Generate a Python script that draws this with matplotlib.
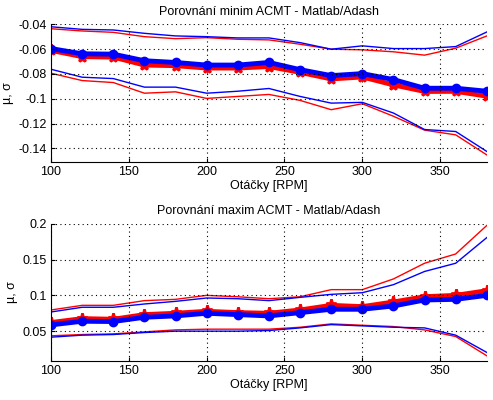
import numpy as np
import matplotlib
matplotlib.use("Agg")
import matplotlib.pyplot as plt

rpm = [100, 120, 140, 160, 180, 200, 220, 240, 260, 280, 300, 320, 340, 360, 380]

# minima (top panel)
min_mean_adash = [-0.0595, -0.0637, -0.064, -0.0693, -0.0707, -0.0728, -0.0728, -0.0707,
                  -0.0765, -0.0813, -0.0797, -0.0845, -0.0915, -0.0915, -0.0939]
min_mean_matlab = [-0.061, -0.066, -0.0664, -0.0728, -0.0733, -0.0752, -0.0752, -0.074,
                   -0.0787, -0.084, -0.0824, -0.0888, -0.0941, -0.094, -0.0979]
min_up_adash = [-0.0419, -0.044, -0.0445, -0.0472, -0.0493, -0.0499, -0.0509, -0.0509,
                -0.0547, -0.060, -0.0573, -0.0595, -0.0595, -0.0579, -0.0461]
min_up_matlab = [-0.0435, -0.0453, -0.0464, -0.0499, -0.0515, -0.0507, -0.052, -0.0525,
                 -0.056, -0.060, -0.0605, -0.0621, -0.0648, -0.0592, -0.0493]
min_lo_adash = [-0.0762, -0.0826, -0.0837, -0.0906, -0.0906, -0.0955, -0.0939, -0.0917,
                -0.0981, -0.1035, -0.1029, -0.1115, -0.1248, -0.1264, -0.1425]
min_lo_matlab = [-0.0794, -0.0853, -0.0869, -0.0955, -0.0944, -0.0997, -0.0981, -0.0965,
                 -0.1013, -0.1088, -0.104, -0.1141, -0.1253, -0.1291, -0.1453]

# maxima (bottom panel)
max_mean_adash = [0.0586, 0.0637, 0.0633, 0.0693, 0.0712, 0.0749, 0.073, 0.0712,
                  0.0758, 0.0805, 0.0805, 0.0851, 0.0935, 0.0944, 0.100]
max_mean_matlab = [0.0619, 0.0674, 0.0665, 0.073, 0.0749, 0.0777, 0.0758, 0.0749,
                   0.0795, 0.086, 0.0842, 0.0907, 0.0981, 0.100, 0.1065]
max_up_adash = [0.0767, 0.0833, 0.0833, 0.0879, 0.0916, 0.0963, 0.0953, 0.0926,
                0.0972, 0.1014, 0.1037, 0.115, 0.1335, 0.145, 0.181]
max_up_matlab = [0.0795, 0.086, 0.086, 0.0926, 0.0944, 0.100, 0.098, 0.0953,
                 0.098, 0.108, 0.108, 0.123, 0.145, 0.158, 0.198]
max_lo_adash = [0.0414, 0.0442, 0.0451, 0.0479, 0.0498, 0.0498, 0.0498, 0.0507,
                0.0544, 0.059, 0.0572, 0.0553, 0.0544, 0.0442, 0.020]
max_lo_matlab = [0.0433, 0.0451, 0.046, 0.0488, 0.0516, 0.0526, 0.0526, 0.0526,
                 0.0553, 0.060, 0.0581, 0.0563, 0.0516, 0.0423, 0.0153]

plt.rcParams["font.family"] = ["Liberation Sans", "DejaVu Sans"]
plt.rcParams["font.size"] = 9

fig = plt.figure(figsize=(4.93, 4.0), dpi=100)
ax1 = fig.add_axes([0.1035, 0.595, 0.884, 0.344])
ax2 = fig.add_axes([0.1035, 0.0975, 0.884, 0.3425])


def panel(ax, mean_m, mean_a, up_m, up_a, lo_m, lo_a, title, ylim, yticks, ylabels):
    ax.plot(rpm, mean_m, "-", color="red", lw=3.5, marker="*", ms=8, mew=2)
    ax.plot(rpm, mean_a, "-", color="blue", lw=3.5, marker="o", ms=6)
    ax.plot(rpm, up_m, color="red", lw=1)
    ax.plot(rpm, lo_m, color="red", lw=1)
    ax.plot(rpm, up_a, color="blue", lw=1)
    ax.plot(rpm, lo_a, color="blue", lw=1)
    ax.set_xlim(100, 380)
    ax.set_ylim(*ylim)
    ax.set_xticks([100, 150, 200, 250, 300, 350])
    ax.set_yticks(yticks)
    ax.set_yticklabels(ylabels)
    ax.grid(True, color="black", linestyle=(0, (1, 3)), lw=0.8)
    ax.set_axisbelow(False)
    for s in ("top", "right"):
        ax.spines[s].set_visible(False)
    ax.tick_params(direction="in", length=3, labelsize=9, pad=3)
    ax.set_title(title, fontsize=9, pad=7)
    ax.set_xlabel("Otáčky [RPM]", fontsize=9, labelpad=1)
    ax.set_ylabel("µ, σ", fontsize=9, labelpad=3)


panel(ax1, min_mean_matlab, min_mean_adash, min_up_matlab, min_up_adash,
      min_lo_matlab, min_lo_adash, "Porovnání minim ACMT - Matlab/Adash",
      (-0.151, -0.04), [-0.14, -0.12, -0.1, -0.08, -0.06, -0.04],
      ["-0.14", "-0.12", "-0.1", "-0.08", "-0.06", "-0.04"])
panel(ax2, max_mean_matlab, max_mean_adash, max_up_matlab, max_up_adash,
      max_lo_matlab, max_lo_adash, "Porovnání maxim ACMT - Matlab/Adash",
      (0.008, 0.2), [0.05, 0.1, 0.15, 0.2], ["0.05", "0.1", "0.15", "0.2"])

fig.savefig("out.png", dpi=100)
